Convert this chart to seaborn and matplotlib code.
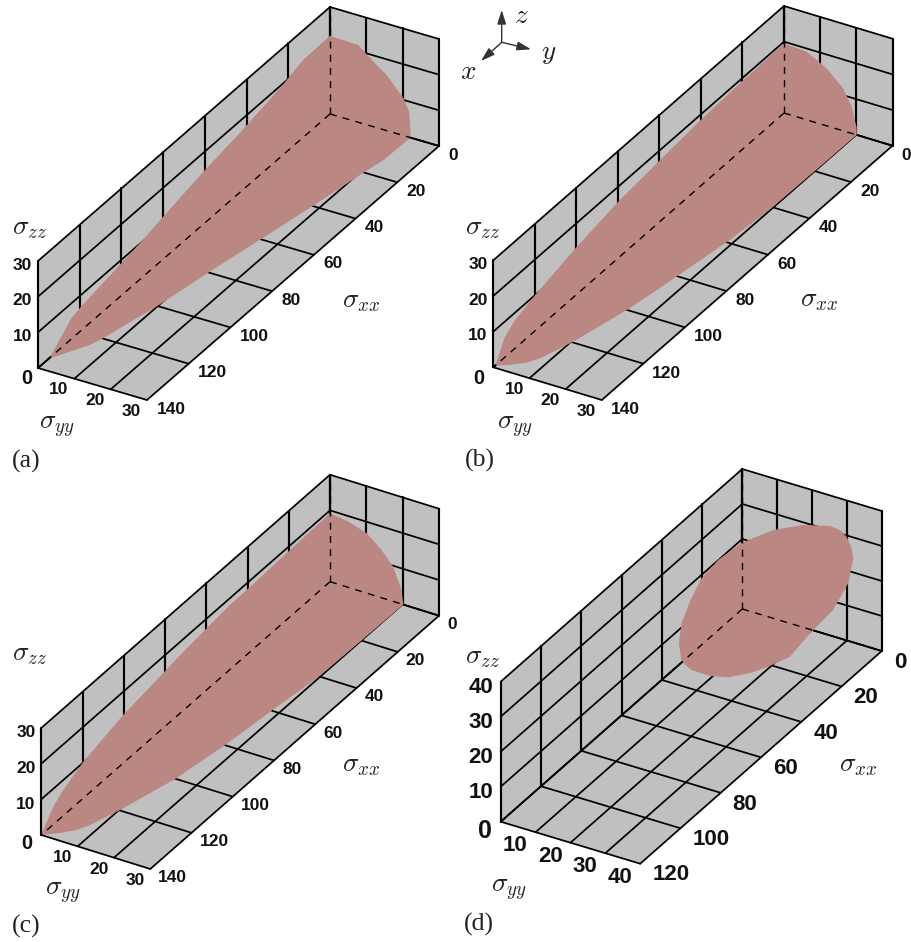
import matplotlib
matplotlib.use("Agg")
import numpy as np
import pandas as pd
import matplotlib.pyplot as plt
import seaborn as sns

# tick values per panel
xx_ticks_abc = [0, 20, 40, 60, 80, 100, 120, 140]
yy_ticks_abc = [0, 10, 20, 30]
zz_ticks_abc = [0, 10, 20, 30]
xx_ticks_d = [0, 20, 40, 60, 80, 100, 120]
yy_ticks_d = [0, 10, 20, 30, 40]
zz_ticks_d = [0, 10, 20, 30, 40]

# surface outlines (sigma_xx, sigma_yy, sigma_zz)
a_xx = [135, 134, 124, 120, 90, 80, 60, 43, 23, 13, 0, 0, 0, 0, 0, 0, 0, 12.5, 20, 25.5, 40, 60, 80, 100, 120, 124]
a_yy = [0, 0, 0, 0, 0, 0, 0, 0, 0, 0, 0, 7.8, 11.5, 15.6, 20.2, 21.8, 22.2, 21.9, 20.8, 20.1, 18.2, 15.4, 12.5, 9.9, 6.3, 5.3]
a_zz = [0, 0.2, 5.8, 6.6, 10.3, 11.9, 14.8, 16.7, 19.6, 21.7, 21.9, 21.7, 18.6, 15.6, 10.5, 7.2, 0, 0, 0, 0, 0, 0, 0, 0, 0, 0]

b_xx = [139, 134.4, 129.6, 119.9, 99.9, 79.8, 59.7, 39.6, 19.6, 0, 0, 0, 0, 0, 0, 0, 20, 40.4, 58.7, 87, 100, 119.7, 130.6, 134, 137.3]
b_yy = [0, 0, 0, 0, 0, 0, 0, 0, 0, 0, 6.3, 11.8, 16.4, 18.7, 20.1, 20.1, 20, 19.8, 18.7, 15.6, 14, 10.4, 7.5, 5.8, 2.5]
b_zz = [0, 5.7, 7.9, 10, 13.3, 15.8, 17.2, 18.5, 19.2, 19.5, 19.1, 16.1, 11.9, 7.5, 2, 0, 0, 0, 0, 0, 0, 0, 0, 0, 0]

c_xx = [140, 134.2, 129.3, 119.6, 100.2, 70, 48.5, 39.6, 19.4, 0, 0, 0, 0, 0, 0, 0, 20.8, 40.5, 60, 80, 100.2, 119.8, 129.7, 133.5, 136.8]
c_yy = [0, 0, 0, 0, 0, 0, 0, 0, 0, 0, 5, 10.1, 14, 17.4, 19.7, 20.2, 20, 19.7, 18, 16.5, 14.2, 10.2, 7.6, 6, 3.3]
c_zz = [0, 5, 7.2, 10.2, 13.5, 16.5, 18.1, 18.2, 18.7, 19.2, 18.5, 16.8, 13.6, 9.7, 3.9, 0, 0, 0, 0, 0, 0, 0, 0, 0, 0]

d_xx = [92.1, 90.8, 86.7, 80.9, 72.6, 61, 45.3, 30.4, 17.1, 12.1, 8.8, 6.3, 5.5, 8, 15.5, 27, 37, 47.8, 56.9, 67.6, 76.7, 85.8, 90.8]
d_yy = [35] * len(d_xx)
d_zz = [47.3, 52.4, 56.5, 60.2, 61.3, 60.3, 56, 49.9, 42.9, 39.2, 35.6, 31, 27.8, 21.9, 18.1, 17.2, 15.6, 18.2, 21, 25.2, 30.2, 36.5, 41.4]

GREY = "#c0c0c0"
PINK = "#bb8783"

sns.set_theme(style="white")
plt.rcParams["font.family"] = ["Liberation Sans", "DejaVu Sans"]
plt.rcParams["mathtext.fontset"] = "cm"

fig = plt.figure(figsize=(9.11, 9.42), dpi=100)
ax = fig.add_axes([0, 0, 1, 1])


def draw_panel(cfg):
    # oblique projection: back corner plus one pixel vector per axis
    bx, by = cfg["back"]
    ex, ey, ez = cfg["ex"], cfg["ey"], cfg["ez"]
    xt, yt, zt = cfg["ticks"]
    xm, ym, zm = xt[-1], yt[-1], zt[-1]

    def proj(x, y, z):
        px = bx + np.asarray(x, float) * ex[0] + np.asarray(y, float) * ey[0] + np.asarray(z, float) * ez[0]
        py = by + np.asarray(x, float) * ex[1] + np.asarray(y, float) * ey[1] + np.asarray(z, float) * ez[1]
        return px, py

    walls = [
        ([0, xm, xm, 0], [0, 0, ym, ym], [0, 0, 0, 0]),
        ([0, xm, xm, 0], [0, 0, 0, 0], [0, 0, zm, zm]),
        ([0, 0, 0, 0], [0, ym, ym, 0], [0, 0, zm, zm]),
    ]
    for w in walls:
        ax.fill(*proj(*w), color=GREY, lw=0, zorder=1)

    flat, upright = [], []
    for x in xt:
        flat.append(([x, x], [0, ym], [0, 0]))
        upright.append(([x, x], [0, 0], [0, zm]))
    for y in yt:
        flat.append(([0, xm], [y, y], [0, 0]))
        upright.append(([0, 0], [y, y], [0, zm]))
    for z in zt:
        flat.append(([0, xm], [0, 0], [z, z]))
        flat.append(([0, 0], [0, ym], [z, z]))
    # the upright wall lines are a bit heavier in the original
    for segs, width in [(flat, 1.25), (upright, 1.55)]:
        rows = []
        for i, (sx, sy, sz) in enumerate(segs):
            px, py = proj(sx, sy, sz)
            rows.append(pd.DataFrame({"px": px, "py": py, "seg": i}))
        grid = pd.concat(rows, ignore_index=True)
        sns.lineplot(data=grid, x="px", y="py", units="seg", estimator=None, sort=False,
                     color="black", lw=width, ax=ax, zorder=2, legend=False)

    ax.fill(*proj(cfg["sx"], cfg["sy"], cfg["sz"]), color=PINK, lw=0, zorder=3)

    # hidden edges of the box, dashed over the surface
    for sx, sy, sz in [([0, xm], [0, 0], [0, 0]), ([0, 0], [0, ym], [0, 0]), ([0, 0], [0, 0], [0, zm])]:
        px, py = proj(sx, sy, sz)
        ax.plot(px, py, color="black", lw=1.0, ls=(0, (5, 4.5)), zorder=4)

    fs = cfg["fs"]
    off = cfg["off"]
    for x in xt:
        px, py = proj(x, ym, 0)
        ax.text(px + off["x"][0], py + off["x"][1], str(x), ha="left", va="center",
                fontsize=fs, fontweight="bold", color="#111111", zorder=5)
    for y in yt[1:]:
        px, py = proj(xm, y, 0)
        ax.text(px + off["y"][0], py + off["y"][1], str(y), ha="center", va="center",
                fontsize=fs, fontweight="bold", color="#111111", zorder=5)
    for z in zt[1:]:
        px, py = proj(xm, 0, z)
        ax.text(px + off["z"][0], py + off["z"][1], str(z), ha="right", va="center",
                fontsize=fs, fontweight="bold", color="#111111", zorder=5)
    px, py = proj(xm, 0, 0)
    ax.text(px + off["o"][0], py + off["o"][1], "0", ha="center", va="center",
            fontsize=fs + 2, fontweight="bold", color="#111111", zorder=5)

    for lab, pos in zip([r"$\sigma_{xx}$", r"$\sigma_{yy}$", r"$\sigma_{zz}$"], cfg["names"]):
        ax.text(pos[0], pos[1], lab, ha="center", va="center", fontsize=19.5, color="#222222", zorder=5)
    ax.text(cfg["tag"][0], cfg["tag"][1], cfg["tagtext"], ha="center", va="center",
            fontsize=18.5, family=["Liberation Serif"], color="#222222", zorder=5)


panels = [
    dict(back=(330, 114), ex=(-292 / 140, 254 / 140), ey=(109 / 30, 32 / 30), ez=(0, -107 / 30),
         ticks=(xx_ticks_abc, yy_ticks_abc, zz_ticks_abc), sx=a_xx, sy=a_yy, sz=a_zz, fs=12.5,
         off={"x": (9.5, 9), "y": (-15.7, 11.3), "z": (-5.8, 4.3), "o": (-11.5, 10.5)},
         names=[(361, 301), (56.7, 426.7), (30, 228)], tag=(26, 461.5), tagtext="(a)"),
    dict(back=(784, 113), ex=(-290.7 / 140, 254.3 / 140), ey=(108.5 / 30, 32.7 / 30), ez=(0, -107 / 30),
         ticks=(xx_ticks_abc, yy_ticks_abc, zz_ticks_abc), sx=b_xx, sy=b_yy, sz=b_zz, fs=12.5,
         off={"x": (9, 9.5), "y": (-15.4, 11.3), "z": (-5.8, 4.3), "o": (-14, 11)},
         names=[(819, 300), (515, 426.5), (482.7, 228.3)], tag=(480, 460), tagtext="(b)"),
    dict(back=(330, 581.7), ex=(-288.7 / 140, 253.3 / 140), ey=(109 / 30, 34 / 30), ez=(0, -107 / 30),
         ticks=(xx_ticks_abc, yy_ticks_abc, zz_ticks_abc), sx=c_xx, sy=c_yy, sz=c_zz, fs=12.5,
         off={"x": (8, 8.8), "y": (-15, 11.4), "z": (-5.6, 4.7), "o": (-14, 8.3)},
         names=[(361, 765), (63.3, 892.7), (30, 654)], tag=(26, 926.5), tagtext="(c)"),
    dict(back=(742.3, 609), ex=(-241.6 / 120, 212.7 / 120), ey=(139.5 / 40, 42 / 40), ez=(0, -35 / 10),
         ticks=(xx_ticks_d, yy_ticks_d, zz_ticks_d), sx=d_xx, sy=d_yy, sz=d_zz, fs=16,
         off={"x": (12, 11.3), "y": (-20.3, 13.7), "z": (-7.7, 5.8), "o": (-15.7, 9)},
         names=[(858, 765), (509, 890), (482.3, 656.7)], tag=(479, 924.5), tagtext="(d)"),
]
for cfg in panels:
    draw_panel(cfg)

# small axis triad between the top panels
triad_origin = (501.7, 42.3)
for tip, lab, pos in [((501.7, 10), "z", (521, 15.7)), ((531, 49.3), "y", (548.3, 53.3)), ((481, 61), "x", (468.3, 71.7))]:
    ax.annotate("", xy=tip, xytext=triad_origin,
                arrowprops=dict(arrowstyle="-|>,head_length=0.7,head_width=0.22", color="#333333", lw=1.0,
                                shrinkA=0, shrinkB=0))
    ax.text(pos[0], pos[1], f"${lab}$", ha="center", va="center", fontsize=19.5, color="#222222")

ax.set_xlim(0, 911)
ax.set_ylim(942, 0)
ax.set_axis_off()
fig.savefig("out.png", dpi=100)
